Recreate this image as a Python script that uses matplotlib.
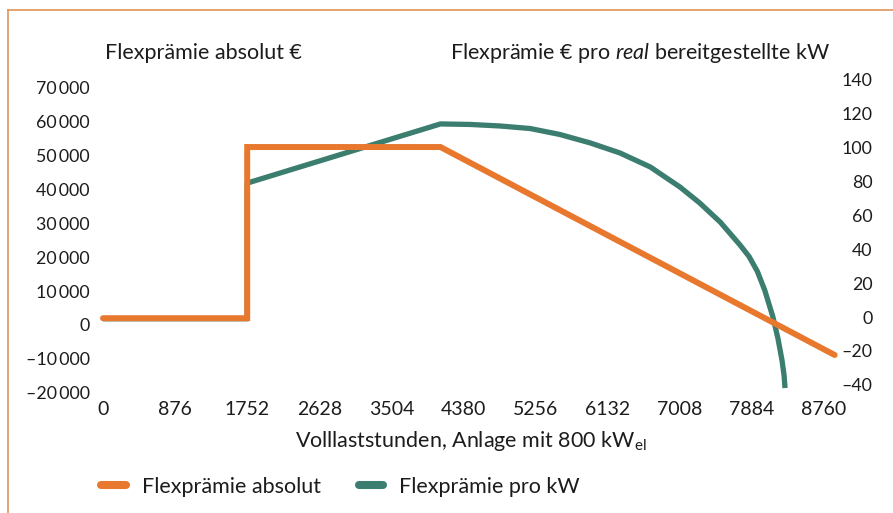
import matplotlib.pyplot as plt
from matplotlib.lines import Line2D

plt.rcParams['font.family'] = ['Lato', 'DejaVu Sans']
plt.rcParams['mathtext.fontset'] = 'custom'
plt.rcParams['mathtext.rm'] = 'Lato'
plt.rcParams['mathtext.it'] = 'Lato:italic'

# --- Daten ---
x_ticks = [0, 876, 1752, 2628, 3504, 4380, 5256, 6132, 7008, 7884, 8760]
left_ticks = [70000, 60000, 50000, 40000, 30000, 20000, 10000, 0, -10000, -20000]
right_ticks = [140, 120, 100, 80, 60, 40, 20, 0, -20, -40]

# Flexprämie absolut (€), linke Achse
abs_hours = [0, 1752, 1752, 4100, 8890]
abs_values = [2000, 2000, 52500, 52500, -8850]

# Flexprämie pro kW (€), rechte Achse
kw_hours = [0, 1752, 1752, 4100, 4460, 4820, 5190, 5550, 5920, 6280, 6650,
            7010, 7250, 7500, 7740, 7850, 7950, 8040, 8140, 8200, 8250, 8275, 8287]
kw_values = [-1, -1, 79, 113.9, 113.6, 112.7, 111.2, 107.7, 102.7, 96.8, 88.5,
             76.7, 67.3, 56.0, 42.5, 35.7, 27.0, 15.9, 0, -12.4, -25.4, -34.2, -41.9]

ORANGE = '#E8782E'
GREEN = '#3B7D6E'
TEXT = '#1c1c1c'


def fmt(v):
    s = f"{abs(v):,}".replace(",", "\u2009")
    return ("\u2013" + s) if v < 0 else s


fig = plt.figure(figsize=(8.93, 5.13), dpi=100)
ax = fig.add_axes([103 / 893, 1 - 395 / 513, 737 / 893, 317 / 513])
ax2 = ax.twinx()

# Orange soll oben liegen
ax.set_zorder(ax2.get_zorder() + 1)
ax.patch.set_visible(False)

ax2.plot(kw_hours, kw_values, color=GREEN, lw=3.8, solid_capstyle='butt',
         solid_joinstyle='round', clip_on=False)
ax.plot(abs_hours, abs_values, color=ORANGE, lw=4.3, solid_capstyle='round',
        solid_joinstyle='miter', clip_on=False)

ax.set_xlim(0, 8955)
ax.set_ylim(-20649, 72861)
ax2.set_ylim(-46.0, 141.0)

ax.set_xticks(x_ticks)
ax.set_xticklabels([str(v) for v in x_ticks])
ax.set_yticks(left_ticks)
ax.set_yticklabels([fmt(v) for v in left_ticks])
ax2.set_yticks(right_ticks)
ax2.set_yticklabels([fmt(v) for v in right_ticks], ha='right')

ax.tick_params(axis='x', length=0, pad=4, labelsize=14, labelcolor=TEXT)
ax.tick_params(axis='y', length=0, pad=9.5, labelsize=12.8, labelcolor=TEXT)
ax2.tick_params(axis='y', length=0, pad=23.5, labelsize=12.8, labelcolor=TEXT)

for a in (ax, ax2):
    for sp in a.spines.values():
        sp.set_visible(False)

# Achsentitel oben
fig.text(105 / 893, 1 - 53 / 513, "Flexprämie absolut €", fontsize=15.5,
         color=TEXT, va='center', ha='left')
fig.text(450 / 893, 1 - 53 / 513,
         r"Flexprämie € pro $\mathit{real}$ bereitgestellte kW",
         fontsize=15.5, color=TEXT, va='center', ha='left')

fig.text(471 / 893, 1 - 441 / 513,
         r"Volllaststunden, Anlage mit 800 kW$_\mathregular{el}$",
         fontsize=15.5, color=TEXT, va='center', ha='center')

handles = [Line2D([], [], color=ORANGE, lw=5.8, solid_capstyle='round'),
           Line2D([], [], color=GREEN, lw=5.8, solid_capstyle='round')]
fig.legend(handles, ["Flexprämie absolut", "Flexprämie pro kW"],
           loc='center left', bbox_to_anchor=(101 / 893, 1 - 487 / 513),
           ncol=2, frameon=False, fontsize=15.5, handlelength=1.15,
           handletextpad=0.75, columnspacing=1.75, labelcolor=TEXT,
           borderpad=0, borderaxespad=0)

# Rahmenlinien (oben, links)
fig.add_artist(Line2D([8 / 893, 1], [1 - 10 / 513, 1 - 10 / 513],
                      transform=fig.transFigure, color='#E0955A', lw=1.2))
fig.add_artist(Line2D([8 / 893, 8 / 893], [0, 1 - 10 / 513],
                      transform=fig.transFigure, color='#E0955A', lw=1.2))

fig.savefig('out.png', dpi=100)
